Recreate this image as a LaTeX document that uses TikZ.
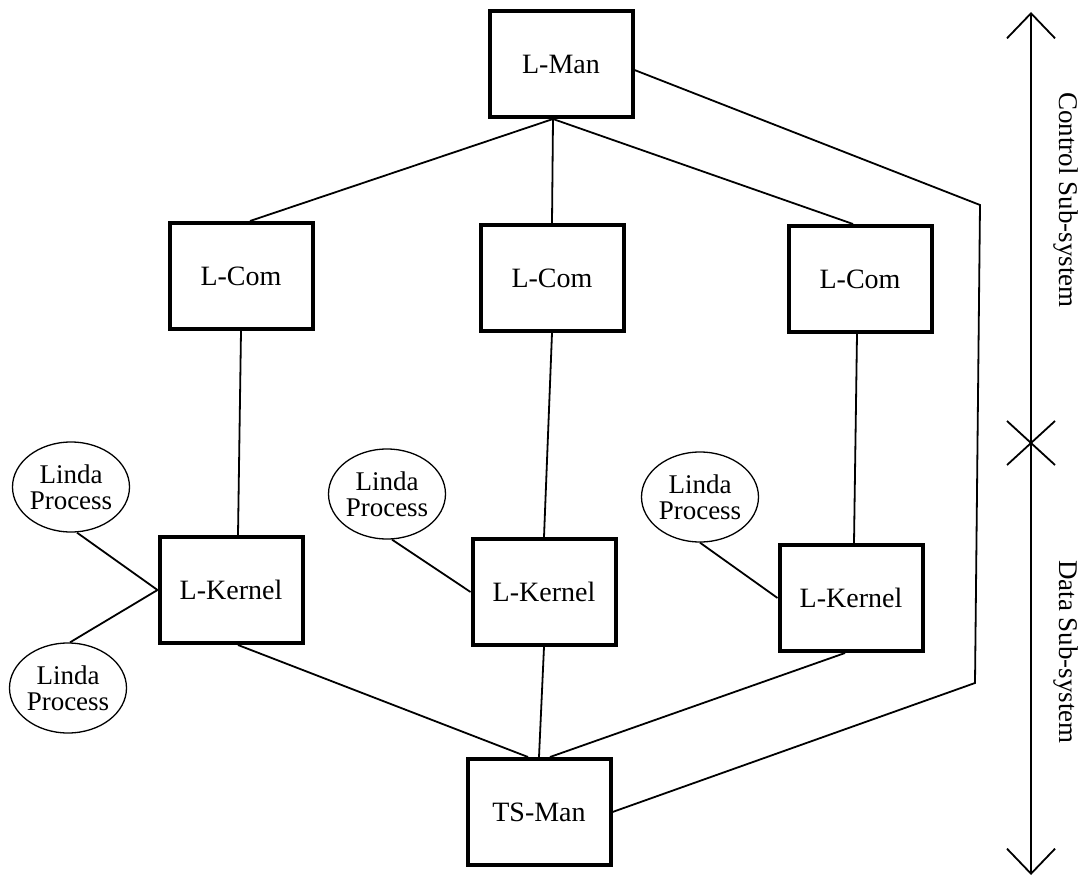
\documentclass[tikz,border=0pt]{standalone}
\usepackage{fontspec}
\setmainfont{Liberation Serif}
\usetikzlibrary{positioning,arrows.meta,shapes.geometric}
\tikzset{
  sys box/.style={
    rectangle,
    draw=black,
    line width=4pt,
    minimum width=143pt,
    minimum height=106pt,
    inner sep=0pt,
    font=\fontsize{28}{28}\selectfont
  },
  linda proc/.style={
    ellipse,
    draw=black,
    line width=1.3pt,
    minimum width=117pt,
    minimum height=90pt,
    inner sep=0pt,
    align=center,
    font=\fontsize{27}{26}\selectfont
  },
  link/.style={
    line width=1.8pt
  },
  span arrow/.style={
    {Straight Barb[length=25pt,width=48pt]}-{Straight Barb[length=25pt,width=48pt]},
    line width=1.8pt
  },
  side label/.style={
    rotate=-90,
    font=\fontsize{27}{27}\selectfont
  }
}

\begin{document}
\begin{tikzpicture}[x=1pt,y=-1pt]
  \useasboundingbox (0,0) rectangle (1092,877);

  % Manager
  \node[sys box] (lman) at (561,64) {L-Man};

  % Com layer
  \node[sys box] (lcomA) at (241,276) {L-Com};
  \node[sys box] (lcomB) at (552,278) {L-Com};
  \node[sys box] (lcomC) at (860,279) {L-Com};

  % Kernel layer
  \node[sys box] (lkernA) at (231,590) {L-Kernel};
  \node[sys box] (lkernB) at (544,592) {L-Kernel};
  \node[sys box] (lkernC) at (851,598) {L-Kernel};

  % Tuple space manager
  \node[sys box] (tsman) at (539,812) {TS-Man};

  % Linda processes
  \node[linda proc] (procA) at (71,487) {Linda\\Process};
  \node[linda proc] (procB) at (68,688) {Linda\\Process};
  \node[linda proc] (procC) at (387,494) {Linda\\Process};
  \node[linda proc] (procD) at (700,497) {Linda\\Process};

  % Manager to coms
  \draw[link] ([xshift=-8pt]lman.south) -- ([xshift=9pt]lcomA.north);
  \draw[link] ([xshift=-8pt]lman.south) -- (lcomB.north);
  \draw[link] ([xshift=-8pt]lman.south) -- ([xshift=-7pt]lcomC.north);

  % Coms to kernels
  \draw[link] (lcomA.south) -- ([xshift=7pt]lkernA.north);
  \draw[link] (lcomB.south) -- (lkernB.north);
  \draw[link] ([xshift=-3pt]lcomC.south) -- ([xshift=3pt]lkernC.north);

  % Kernels to TS-Man
  \draw[link] ([xshift=7pt]lkernA.south) -- ([xshift=-11pt]tsman.north);
  \draw[link] (lkernB.south) -- (tsman.north);
  \draw[link] ([xshift=-6pt]lkernC.south) -- ([xshift=11pt]tsman.north);

  % Processes to kernels
  \draw[link] ([xshift=6pt]procA.south) -- (lkernA.west);
  \draw[link] ([xshift=2pt]procB.north) -- (lkernA.west);
  \draw[link] ([xshift=5pt]procC.south) -- (lkernB.west);
  \draw[link] (procD.south) -- (lkernC.west);

  % Manager to TS-Man
  \coordinate (bendA) at (980,205);
  \coordinate (bendB) at (975,683);
  \draw[link] ([yshift=-6pt]lman.east) -- (bendA) -- (bendB) -- (tsman.east);

  % Sub-system scale
  \coordinate (ctop) at (1031,12);
  \coordinate (cbot) at (1031,875);
  \coordinate (xmark) at (1031,443);
  \draw[span arrow] (ctop) -- (cbot);
  \draw[link] ([shift={(-24,-22)}]xmark) -- ([shift={(24,22)}]xmark);
  \draw[link] ([shift={(-24,22)}]xmark) -- ([shift={(24,-22)}]xmark);
  \node[side label] (ctrl) at (1066,200) {Control Sub-system};
  \node[side label] (data) at (1066,652) {Data Sub-system};
\end{tikzpicture}
\end{document}
